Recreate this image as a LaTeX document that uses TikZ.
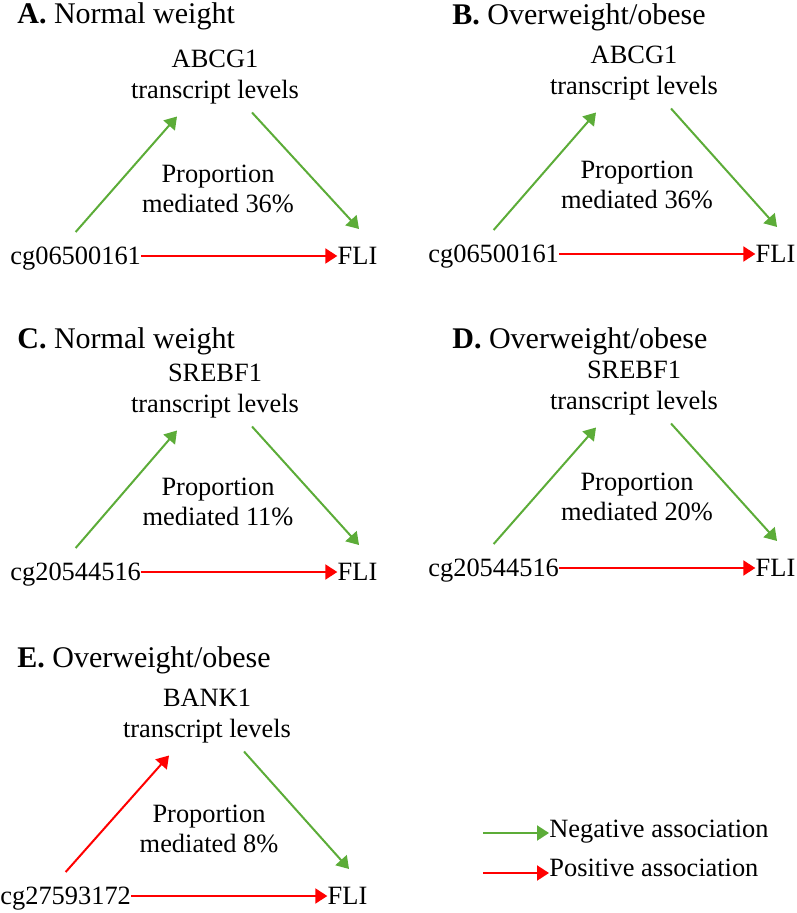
\documentclass[tikz,border=0pt]{standalone}
\usepackage{fontspec}
\setmainfont{Liberation Serif}
\usetikzlibrary{positioning, arrows.meta}
\definecolor{neggreen}{RGB}{92,172,56}
\definecolor{posred}{RGB}{255,0,0}

\begin{document}
\begin{tikzpicture}[
    x=0.5pt, y=-0.5pt,
    node distance=98pt,
    >={Triangle[length=6pt, width=7.5pt]},
    term/.style={inner sep=0pt, text depth=0pt, font=\fontsize{13.2}{15}\selectfont},
    plabel/.style={inner sep=0pt, anchor=west, font=\fontsize{15}{17}\selectfont},
    gene/.style={inner sep=0pt, align=center, font=\fontsize{13.2}{15.2}\selectfont},
    prop/.style={inner sep=0pt, align=center, font=\fontsize{13.2}{15}\selectfont},
    negarrow/.style={->, line width=1pt, neggreen},
    posarrow/.style={->, line width=1pt, posred},
]
\useasboundingbox (0,0) rectangle (796,913);

% === A. Normal weight ===
\node[plabel] (la) at (17,16) {\textbf{A.} Normal weight};
\node[gene] (ga) at (215,77) {ABCG1\\transcript levels};
\node[prop] (pa) at (218,189) {Proportion\\mediated 36\%};
\node[term, anchor=west] (ca) at (10,256) {cg06500161};
\node[term, right=of ca] (fa) {FLI};
\draw[negarrow] ([yshift=12pt]ca.center) -- ([xshift=-19pt, yshift=-19.75pt]ga.center);
\draw[negarrow] ([xshift=18.5pt, yshift=-17.75pt]ga.center) -- ([xshift=0.75pt, yshift=13.5pt]fa.center);
\draw[posarrow] (ca.east) -- (fa.west);

% === B. Overweight/obese ===
\node[plabel] (lb) at (452,17) {\textbf{B.} Overweight/obese};
\node[gene] (gb) at (634,73) {ABCG1\\transcript levels};
\node[prop] (pb) at (637,185) {Proportion\\mediated 36\%};
\node[term, anchor=west] (cb) at (428,254) {cg06500161};
\node[term, right=of cb] (fb) {FLI};
\draw[negarrow] ([yshift=12pt]cb.center) -- ([xshift=-19pt, yshift=-19.75pt]gb.center);
\draw[negarrow] ([xshift=18.5pt, yshift=-17.75pt]gb.center) -- ([xshift=0.75pt, yshift=13.5pt]fb.center);
\draw[posarrow] (cb.east) -- (fb.west);

% === C. Normal weight ===
\node[plabel] (lc) at (17,341) {\textbf{C.} Normal weight};
\node[gene] (gc) at (215,391) {SREBF1\\transcript levels};
\node[prop] (pc) at (218,502) {Proportion\\mediated 11\%};
\node[term, anchor=west] (cc) at (10,572) {cg20544516};
\node[term, right=of cc] (fc) {FLI};
\draw[negarrow] ([yshift=12pt]cc.center) -- ([xshift=-19pt, yshift=-19.75pt]gc.center);
\draw[negarrow] ([xshift=18.5pt, yshift=-17.75pt]gc.center) -- ([xshift=0.75pt, yshift=13.5pt]fc.center);
\draw[posarrow] (cc.east) -- (fc.west);

% === D. Overweight/obese ===
\node[plabel] (ld) at (452,341) {\textbf{D.} Overweight/obese};
\node[gene] (gd) at (634,388) {SREBF1\\transcript levels};
\node[prop] (pd) at (637,497) {Proportion\\mediated 20\%};
\node[term, anchor=west] (cd) at (428,568) {cg20544516};
\node[term, right=of cd] (fd) {FLI};
\draw[negarrow] ([yshift=12pt]cd.center) -- ([xshift=-19pt, yshift=-19.75pt]gd.center);
\draw[negarrow] ([xshift=18.5pt, yshift=-17.75pt]gd.center) -- ([xshift=0.75pt, yshift=13.5pt]fd.center);
\draw[posarrow] (cd.east) -- (fd.west);

% === E. Overweight/obese ===
\node[plabel] (le) at (17,660) {\textbf{E.} Overweight/obese};
\node[gene] (ge) at (207,716) {BANK1\\transcript levels};
\node[prop] (pe) at (209,829) {Proportion\\mediated 8\%};
\node[term, anchor=west] (ce) at (0,896) {cg27593172};
\node[term, right=of ce] (fe) {FLI};
\draw[posarrow] ([yshift=12pt]ce.center) -- ([xshift=-19pt, yshift=-19.75pt]ge.center);
\draw[negarrow] ([xshift=18.5pt, yshift=-17.75pt]ge.center) -- ([xshift=0.75pt, yshift=13.5pt]fe.center);
\draw[posarrow] (ce.east) -- (fe.west);

% legend
\coordinate (negtail) at (483,833);
\coordinate (postail) at (483,873);
\node[term, anchor=west] (negl) at (549,829) {Negative association};
\node[term, anchor=west] (posl) at (549,868) {Positive association};
\draw[negarrow] (negtail) -- (negtail -| negl.west);
\draw[posarrow] (postail) -- (postail -| posl.west);

\end{tikzpicture}
\end{document}
